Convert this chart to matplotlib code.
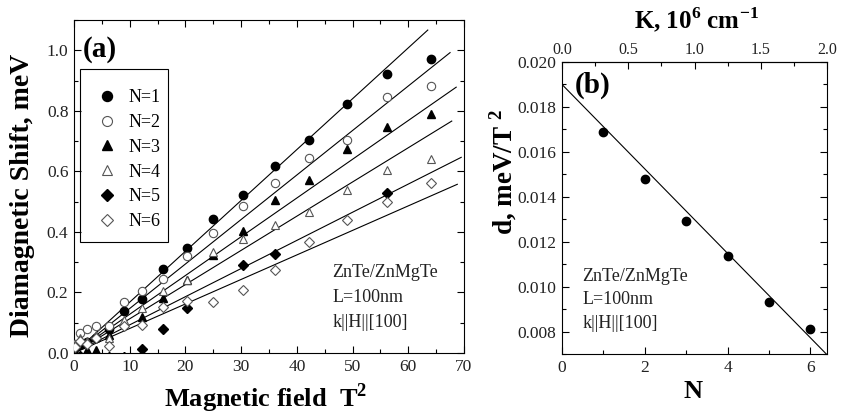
import matplotlib
matplotlib.use("Agg")
import matplotlib.pyplot as plt
import numpy as np
from matplotlib.ticker import MultipleLocator
from matplotlib.patches import Rectangle

plt.rcParams['font.family'] = ['Liberation Serif', 'DejaVu Serif']
plt.rcParams['mathtext.fontset'] = 'custom'
plt.rcParams['mathtext.rm'] = 'Liberation Serif'
plt.rcParams['mathtext.bf'] = 'Liberation Serif:bold'

# ---- panel (a): diamagnetic shift vs B^2 ----
field_sq = [0.25, 1, 2.25, 4, 6.25, 9, 12.25, 16, 20.25, 25, 30.25, 36, 42.25, 49, 56.25, 64]

shift_n1 = [0.02, 0.03, 0.035, 0.05, 0.078, 0.14, 0.18, 0.277, 0.348, 0.441, 0.522, 0.619, 0.705, 0.823, 0.921, 0.971]
shift_n2 = [0.03, 0.065, 0.08, 0.088, 0.09, 0.168, 0.206, 0.243, 0.322, 0.398, 0.484, 0.563, 0.643, 0.705, 0.846, 0.881]
shift_n3 = [0.0, 0.03, 0.01, 0.01, 0.06, 0.10, 0.12, 0.183, 0.24, 0.323, 0.403, 0.505, 0.571, 0.673, 0.747, 0.788]
shift_n4 = [0.03, 0.05, 0.04, 0.06, 0.05, 0.11, 0.147, 0.206, 0.241, 0.332, 0.376, 0.422, 0.467, 0.540, 0.606, 0.640]
shift_n5 = [-0.005, -0.01, -0.008, -0.01, -0.012, -0.012, 0.013, 0.078, 0.150, None, 0.290, 0.326, None, None, 0.527, None]
shift_n6 = [0.02, 0.04, 0.03, 0.05, 0.022, 0.09, 0.092, 0.153, 0.173, 0.169, 0.208, 0.274, 0.368, 0.439, 0.500, 0.560]

series_labels = ['N=1', 'N=2', 'N=3', 'N=4', 'N=5', 'N=6']
series_markers = ['o', 'o', '^', '^', 'D', 'D']
series_filled = [True, False, True, False, True, False]

# fitted slopes d (meV/T^2) and the x where each fit line stops
fit_slopes = [0.0168, 0.0147, 0.0128, 0.0113, 0.0093, 0.0081]
fit_end = [63.5, 67.5, 68.6, 67.8, 69.5, 68.8]

# ---- panel (b): d vs N ----
n_values = [1, 2, 3, 4, 5, 6]
d_values = [0.0169, 0.0148, 0.0129, 0.01136, 0.0093, 0.0081]
d_fit_intercept = 0.0190
d_fit_slope = -0.00188
k_per_n = 2.0 / 6.4  # K (10^6 cm^-1) per unit N

info_lines = ['ZnTe/ZnMgTe', 'L=100nm', 'k||H||[100]']

W, H = 843, 420
fig = plt.figure(figsize=(W / 100, H / 100), dpi=100)

def frac(x0, y0, x1, y1):
    return [x0 / W, 1 - y1 / H, (x1 - x0) / W, (y1 - y0) / H]

tick_kw = dict(direction='in', top=True, right=True, colors='black', labelcolor='#222222')

# panel a
ax = fig.add_axes(frac(74, 20, 464, 353))
all_shifts = [shift_n1, shift_n2, shift_n3, shift_n4, shift_n5, shift_n6]
for vals, lab, m, filled, slope, xe in zip(all_shifts, series_labels, series_markers,
                                          series_filled, fit_slopes, fit_end):
    xs = [x for x, v in zip(field_sq, vals) if v is not None]
    ys = [v for v in vals if v is not None]
    ms = 6.0 if m != 'D' else 5.2
    if filled:
        ax.plot(xs, ys, ls='none', marker=m, ms=ms, mfc='black', mec='black', label=lab, zorder=3)
    else:
        ax.plot(xs, ys, ls='none', marker=m, ms=ms, mfc='white', mec='#555555', mew=0.8,
                label=lab, zorder=3)
    xl = np.array([0, xe])
    ax.plot(xl, slope * xl, color='black', lw=0.8, zorder=2)

ax.set_xlim(0, 70)
ax.set_ylim(0, 1.1)
ax.xaxis.set_major_locator(MultipleLocator(10))
ax.xaxis.set_minor_locator(MultipleLocator(5))
ax.yaxis.set_minor_locator(MultipleLocator(0.1))
ax.set_yticks([0.0, 0.2, 0.4, 0.6, 0.8, 1.0])
ax.set_yticklabels(['0.0', '0.2', '0.4', '0.6', '0.8', '1.0'])
ax.tick_params(which='both', **tick_kw)
ax.tick_params(which='major', length=5, width=0.8, labelsize=12.5, pad=4)
ax.tick_params(which='minor', length=3, width=0.8)
for s in ax.spines.values():
    s.set_linewidth(0.8)

# legend without its own frame, boxed by a plain rectangle
leg = ax.legend(loc='upper left', bbox_to_anchor=(0.0615, 0.792), borderaxespad=0,
                fontsize=13, frameon=False, handlelength=1.0, handletextpad=0.67,
                labelspacing=0.43, borderpad=0, markerscale=1.2)
ax.add_patch(Rectangle((0.0154, 0.333), 0.2256, 0.52, transform=ax.transAxes,
                       fill=False, ec='black', lw=0.8, zorder=4))

ax.text(0.067, 0.91, '(a)', transform=ax.transAxes, ha='center', va='center',
        fontsize=21, fontweight='bold')
for i, line in enumerate(info_lines):
    ax.text(0.662, 0.243 - i * 0.075, line, transform=ax.transAxes,
            ha='left', va='center', fontsize=13, color='#222222')

fig.text(266 / W, 1 - 398 / H, r'Magnetic field  T$^{\mathbf{2}}$', ha='center', va='center',
         fontsize=19, fontweight='bold')
fig.text(23 / W, 1 - 195 / H, 'Diamagnetic Shift, meV', rotation=90, ha='center',
         va='center', fontsize=20, fontweight='bold')

# panel b
bx = fig.add_axes(frac(562, 62, 827, 354))
bx.plot(n_values, d_values, ls='none', marker='o', ms=6.0, mfc='black', mec='black', zorder=3)
nl = np.array([0, 6.5])
bx.plot(nl, d_fit_intercept + d_fit_slope * nl, color='black', lw=0.8, zorder=2)
bx.set_xlim(0, 6.4)
bx.set_ylim(0.007, 0.020)
bx.xaxis.set_major_locator(MultipleLocator(2))
bx.xaxis.set_minor_locator(MultipleLocator(1))
bx.yaxis.set_major_locator(MultipleLocator(0.002))
bx.yaxis.set_minor_locator(MultipleLocator(0.001))
bx.yaxis.set_major_formatter(plt.FormatStrFormatter('%.3f'))
bx.tick_params(which='both', direction='in', right=True, top=False, labelcolor='#222222')
bx.tick_params(which='major', length=5, width=0.8, labelsize=12.5, pad=4)
bx.tick_params(which='minor', length=3, width=0.8)
for s in bx.spines.values():
    s.set_linewidth(0.8)

top = bx.secondary_xaxis('top', functions=(lambda n: n * k_per_n, lambda k: k / k_per_n))
top.set_xticks([0.0, 0.5, 1.0, 1.5, 2.0])
top.xaxis.set_minor_locator(MultipleLocator(0.25))
top.xaxis.set_major_formatter(plt.FormatStrFormatter('%.1f'))
top.tick_params(which='both', direction='in', labelcolor='#222222')
top.tick_params(which='major', length=5, width=0.8, labelsize=11.5, pad=3)
top.tick_params(which='minor', length=3, width=0.8)

bx.text(0.116, 0.921, '(b)', transform=bx.transAxes, ha='center', va='center',
        fontsize=21, fontweight='bold')
for i, line in enumerate(info_lines):
    bx.text(0.078, 0.264 - i * 0.079, line, transform=bx.transAxes,
            ha='left', va='center', fontsize=13, color='#222222')

fig.text(693 / W, 1 - 392 / H, 'N', ha='center', va='center', fontsize=19, fontweight='bold')
fig.text(696 / W, 1 - 20 / H, r'K, 10$^{\mathbf{6}}$ cm$^{\mathbf{-1}}$', ha='center',
         va='center', fontsize=18, fontweight='bold')
fig.text(503 / W, 1 - 172 / H, r'd, meV/T $^{\mathbf{2}}$', rotation=90, ha='center',
         va='center', fontsize=19.5, fontweight='bold')

fig.savefig('out.png', dpi=100)
